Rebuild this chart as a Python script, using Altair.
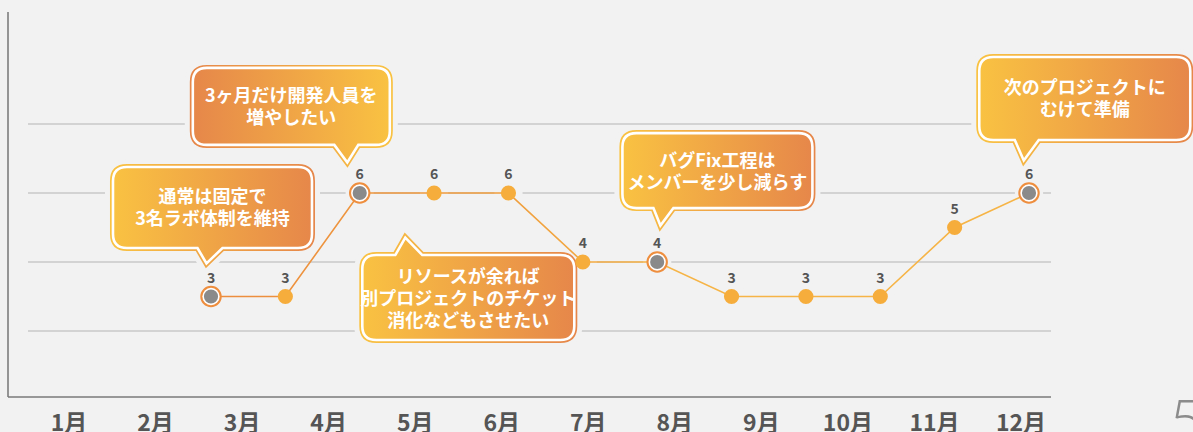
import altair as alt
import pandas as pd

# ---------------- data ----------------
months = ["1月", "2月", "3月", "4月", "5月", "6月", "7月", "8月", "9月", "10月", "11月", "12月"]
period = list(range(1, 13))
staff = [3, 3, 6, 6, 6, 4, 4, 3, 3, 3, 5, 6]
highlight = [True, False, True, False, False, False, True, False, False, False, False, True]
grid_values = [2, 4, 6, 8]

callout_texts = [
    "3ヶ月だけ開発人員を\n増やしたい",
    "通常は固定で\n3名ラボ体制を維持",
    "リソースが余れば\n別プロジェクトのチケット\n消化などもさせたい",
    "バグFix工程は\nメンバーを少し減らす",
    "次のプロジェクトに\nむけて準備",
]
# anchor of each callout box centre, in chart units (period, staff)
callout_x = [2.08, 1.02, 4.46, 7.81, 12.75]
callout_y = [8.51, 5.58, 2.97, 6.65, 8.74]

page_number = "5"

# ---------------- styles ----------------
BG = "#f2f2f2"
YEL = "#f9c242"
ORG = "#e6874a"
FONT = "Noto Sans CJK JP"
LH = 22

# callout shape: box width, height, pointer side, pointer base x0,x1, tip x,y (px, relative to box centre)
callout_shapes = [
    (197, 77, "bottom", 43, 67, 56, 56),
    (199, 81, "bottom", -15, 10, -6, 56),
    (212, 85, "top", -73, -46, -63, -60),
    (190, 75, "bottom", -64, -44, -57, 55),
    (211, 83, "bottom", -70, -46, -61, 62),
]
reverse_gradient = [True, False, False, False, False]

K = 100.0  # path unit in px


def callout_path(w, h, side, b0, b1, tx, ty, r=14):
    l, rt, t, b = -w / 2, w / 2, -h / 2, h / 2

    def f(x, y):
        return f"{x / K:.4f},{y / K:.4f}"

    p = [f"M{f(l + r, t)}"]
    if side == "top":
        p += [f"L{f(b0, t)}", f"L{f(tx, ty)}", f"L{f(b1, t)}"]
    p += [f"L{f(rt - r, t)}", f"Q{f(rt, t)} {f(rt, t + r)}",
          f"L{f(rt, b - r)}", f"Q{f(rt, b)} {f(rt - r, b)}"]
    if side == "bottom":
        p += [f"L{f(b1, b)}", f"L{f(tx, ty)}", f"L{f(b0, b)}"]
    p += [f"L{f(l + r, b)}", f"Q{f(l, b)} {f(l, b - r)}",
          f"L{f(l, t + r)}", f"Q{f(l, t)} {f(l + r, t)}", "Z"]
    return " ".join(p)


def grad(c0, c1):
    return alt.Gradient(
        gradient="linear",
        stops=[alt.GradientStop(color=c0, offset=0), alt.GradientStop(color=c1, offset=1)],
        x1=0, x2=1, y1=0, y2=0,
    )


xscale = alt.Scale(domain=[1, 12], range=[203, 1021])
yscale = alt.Scale(domain=[0, 8], range=[388, 112])

df = pd.DataFrame({"period": period, "staff": staff, "hl": highlight})
grid_df = pd.DataFrame({"g": grid_values})
one = pd.DataFrame({"a": [0]})
month_df = pd.DataFrame({"month": months})

X = alt.X("period:Q", scale=xscale, axis=None)
Y = alt.Y("staff:Q", scale=yscale, axis=None)

layers = []

# grid lines
layers.append(
    alt.Chart(grid_df).mark_rule(color="#b4b4b4", strokeWidth=1.2).encode(
        y=alt.Y("g:Q", scale=yscale, axis=None),
        x=alt.value(20), x2=alt.value("width"),
    )
)
# halos around points (cut the grid)
layers.append(
    alt.Chart(df).mark_circle(color=BG, size=800, opacity=1).encode(x=X, y=Y)
)

callout_layers_bg = []
callout_layers_fg = []
for i, txt in enumerate(callout_texts):
    cdf = pd.DataFrame({"period": [callout_x[i]], "staff": [callout_y[i]], "text": [txt]})
    shape = callout_path(*callout_shapes[i])
    g = grad(ORG, YEL) if reverse_gradient[i] else grad(YEL, ORG)
    n_lines = txt.count("\n") + 1
    base = alt.Chart(cdf)
    callout_layers_bg.append(
        base.mark_point(shape=shape, size=(2 * K) ** 2, filled=False, stroke=BG,
                        strokeWidth=16, opacity=1).encode(x=X, y=Y)
    )
    callout_layers_fg.append(
        base.mark_point(shape=shape, size=(2 * K) ** 2, filled=True, fill=g, stroke=g,
                        strokeWidth=6, opacity=1).encode(x=X, y=Y)
    )
    callout_layers_fg.append(
        base.mark_point(shape=shape, size=(2 * K) ** 2, filled=True, fill=g, stroke="white",
                        strokeWidth=2.6, opacity=1).encode(x=X, y=Y)
    )
    callout_layers_fg.append(
        base.mark_text(font=FONT, fontSize=18, fontWeight="bold", color="white",
                       lineBreak="\n", lineHeight=LH, align="center", baseline="middle",
                       dy=2 - (n_lines - 1) * LH / 2).encode(x=X, y=Y, text="text:N")
    )

layers += callout_layers_bg

# axes lines
layers.append(
    alt.Chart(one).mark_rule(color="#6e6e6e", strokeWidth=1.4).encode(
        x=alt.value(0), y=alt.value(0), y2=alt.value("height"))
)
layers.append(
    alt.Chart(one).mark_rule(color="#7a7a7a", strokeWidth=1.4).encode(
        x=alt.value(0), x2=alt.value("width"), y=alt.value("height"))
)

# data line
line_grad = alt.Gradient(
    gradient="linear",
    stops=[
        alt.GradientStop(color="#ec8c3e", offset=0),
        alt.GradientStop(color="#f0a03e", offset=0.38),
        alt.GradientStop(color="#f6b446", offset=0.55),
        alt.GradientStop(color="#f6b446", offset=1),
    ],
    x1=0, x2=1, y1=0, y2=0,
)
layers.append(
    alt.Chart(df).mark_line(stroke=line_grad, strokeWidth=1.6).encode(x=X, y=Y)
)

layers += callout_layers_fg

# normal points
layers.append(
    alt.Chart(df).transform_filter("!datum.hl").mark_circle(
        color="#f6ad3c", size=230, opacity=1).encode(x=X, y=Y)
)
# highlighted points
hl = alt.Chart(df).transform_filter("datum.hl")
layers.append(hl.mark_circle(color="#ee8e3e", size=460, opacity=1).encode(x=X, y=Y))
layers.append(hl.mark_circle(color="white", size=300, opacity=1).encode(x=X, y=Y))
layers.append(hl.mark_circle(color="#8a8a8a", size=200, opacity=1).encode(x=X, y=Y))

# value labels
layers.append(
    alt.Chart(df).mark_text(font=FONT, fontSize=14, fontWeight="bold", color="#555555",
                            dy=-18, baseline="middle").encode(x=X, y=Y, text="staff:Q")
)

# month labels
layers.append(
    alt.Chart(month_df).mark_text(font=FONT, fontSize=23, fontWeight="bold", color="#555555",
                                  baseline="alphabetic", align="center").encode(
        x=alt.X("month:O", sort=months,
                scale=alt.Scale(type="point", domain=months, range=[61, 1013], padding=0),
                axis=None),
        y=alt.value(419),
        text="month:N",
    )
)
# page number
layers.append(
    alt.Chart(pd.DataFrame({"t": [page_number]})).mark_text(
        font="Lato", fontSize=60, fontWeight=300, color="#8c8c8c",
        align="left", baseline="alphabetic").encode(
        x=alt.value(1161), y=alt.value(430), text="t:N")
)

chart = alt.layer(*layers).resolve_scale(x="independent").properties(
    width=1043, height=385,
    autosize=alt.AutoSizeParams(type="none"),
    padding={"left": 8, "top": 12, "right": 142, "bottom": 35},
    background=BG,
).configure_view(strokeWidth=0)

chart.save("out.html", embed_options={"renderer": "svg", "actions": False})
